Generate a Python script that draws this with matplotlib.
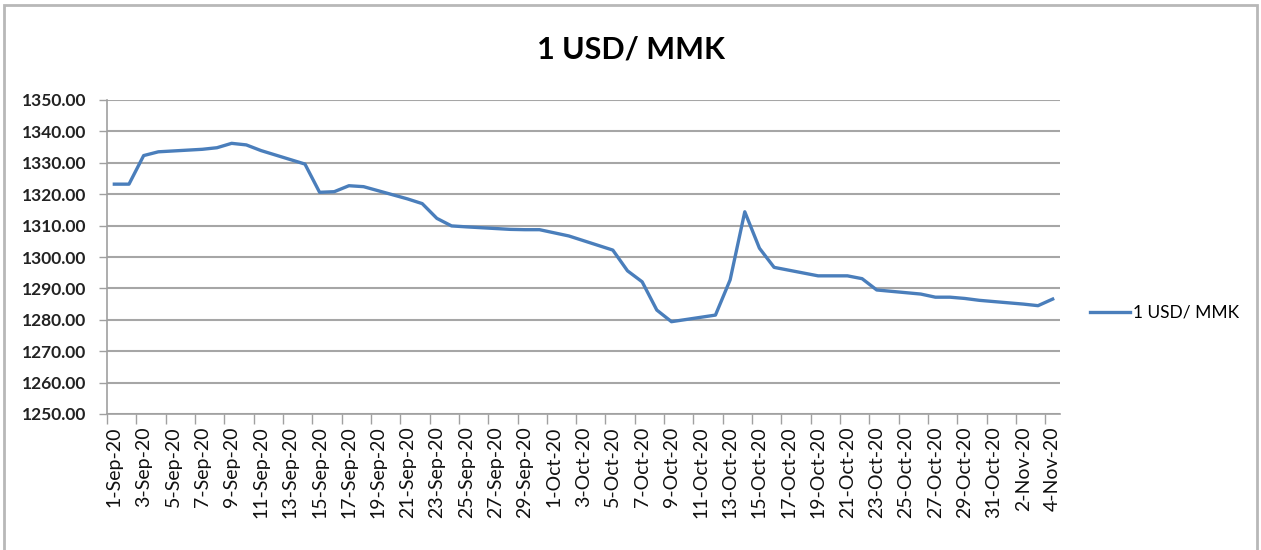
import numpy as np
import matplotlib.pyplot as plt
from matplotlib.patches import Rectangle

# daily exchange rate (weekends / holidays missing, Excel joins across them)
dates = ['2020-09-01', '2020-09-02', '2020-09-03', '2020-09-04', '2020-09-07',
         '2020-09-08', '2020-09-09', '2020-09-10', '2020-09-11', '2020-09-14',
         '2020-09-15', '2020-09-16', '2020-09-17', '2020-09-18', '2020-09-21',
         '2020-09-22', '2020-09-23', '2020-09-24', '2020-09-25', '2020-09-28',
         '2020-09-29', '2020-09-30', '2020-10-01', '2020-10-02', '2020-10-05',
         '2020-10-06', '2020-10-07', '2020-10-08', '2020-10-09', '2020-10-12',
         '2020-10-13', '2020-10-14', '2020-10-15', '2020-10-16', '2020-10-19',
         '2020-10-20', '2020-10-21', '2020-10-22', '2020-10-23', '2020-10-26',
         '2020-10-27', '2020-10-28', '2020-10-29', '2020-10-30', '2020-11-02',
         '2020-11-03', '2020-11-04']
rates = [1323.2, 1323.2, 1332.3, 1333.5, 1334.3,
         1334.8, 1336.2, 1335.7, 1333.9, 1329.6,
         1320.6, 1320.8, 1322.7, 1322.4, 1318.5,
         1317.0, 1312.3, 1309.9, 1309.6, 1308.8,
         1308.7, 1308.7, 1307.7, 1306.7, 1302.2,
         1295.6, 1292.1, 1283.1, 1279.4, 1281.5,
         1292.7, 1314.4, 1302.8, 1296.7, 1294.0,
         1294.0, 1294.0, 1293.1, 1289.5, 1288.2,
         1287.2, 1287.2, 1286.8, 1286.2, 1285.0,
         1284.5, 1286.6]
series_name = '1 USD/ MMK'
start, end = '2020-09-01', '2020-11-04'
yticks = np.arange(1250, 1351, 10)

plt.rcParams['font.family'] = ['Lato', 'DejaVu Sans']

# day offsets from the first date (date axis, one slot per day)
day0 = np.datetime64(start)
x = (np.array(dates, dtype='datetime64[D]') - day0).astype(int)
ndays = int((np.datetime64(end) - day0).astype(int)) + 1
all_days = day0 + np.arange(ndays)
labels = []
for d in all_days:
    dt = d.astype(object)
    labels.append('%d-%s' % (dt.day, dt.strftime('%b-%y')))

fig = plt.figure(figsize=(12.61, 5.5), dpi=100)
fig.patches.append(Rectangle((4 / 1261, -0.1), 1253 / 1261, 1.1 - 5 / 550,
                             transform=fig.transFigure, fill=False,
                             edgecolor='#b8b8b8', linewidth=2))
ax = fig.add_axes([107 / 1261, 136 / 550, 953 / 1261, 314 / 550])

ax.plot(x, rates, color='#4a7ebb', linewidth=2.4, label=series_name,
        solid_joinstyle='round')

ax.set_xlim(-0.5, ndays - 0.5)
ax.set_ylim(1250, 1350)
ax.set_yticks(yticks)
ax.set_yticklabels(['%.2f' % v for v in yticks], fontweight='bold',
                   fontsize=12.5, color='#222222')
ax.yaxis.grid(True, color='#a6a6a6', linewidth=1.5)
ax.set_axisbelow(True)

ax.set_xticks(np.arange(0, ndays, 2))
ax.set_xticklabels(labels[::2], rotation=90, fontsize=14, color='#111111')
ax.set_xticks(np.arange(-0.5, ndays, 2), minor=True)
ax.tick_params(axis='x', which='major', length=0, pad=9)
ax.tick_params(axis='x', which='minor', length=7, color='#a0a0a0', width=1)
ax.tick_params(axis='y', length=6, color='#a0a0a0', width=1, pad=9)

for s in ['top', 'right']:
    ax.spines[s].set_visible(False)
for s in ['left', 'bottom']:
    ax.spines[s].set_color('#a0a0a0')
    ax.spines[s].set_linewidth(1.2)

fig.text(631 / 1261, 1 - 50 / 550, '1 USD/ MMK', ha='center', va='center',
         fontsize=22, fontweight='bold')

ax.legend(loc='center left', bbox_to_anchor=(1083 / 1261, 1 - 313 / 550),
          bbox_transform=fig.transFigure, frameon=False, borderaxespad=0,
          handlelength=2.3, handletextpad=0.2, prop={'size': 12.5})

fig.savefig('out.png', dpi=100)
